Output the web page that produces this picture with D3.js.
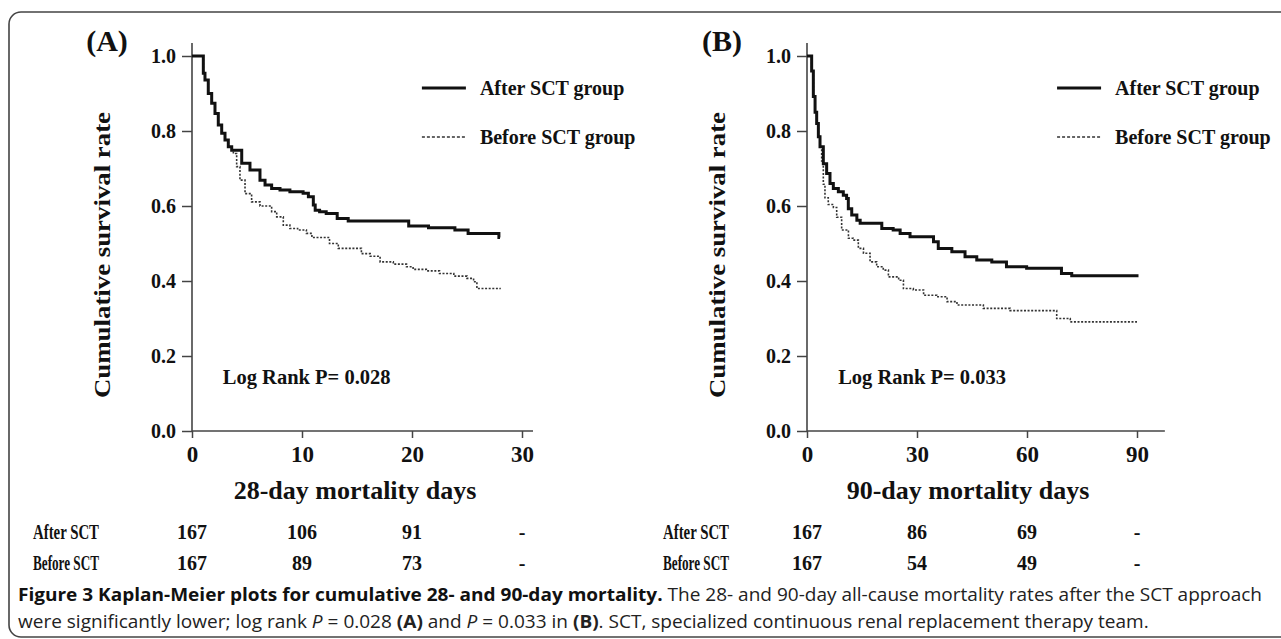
<!DOCTYPE html>
<html>
<head>
<meta charset="utf-8">
<script src="https://cdn.jsdelivr.net/npm/d3@7"></script>
<style>
    body { margin: 0; background: #fff; }
    svg text { font-family: "Liberation Serif", "Times New Roman", serif; font-weight: bold; fill: #111; }
    .caption text { font-family: "Open Sans", sans-serif; font-weight: normal; fill: #222; }
</style>
</head>
<body>
<svg id="chart" width="1281" height="639"></svg>
<script>
// ---- data ----
var yTicks = [0, 0.2, 0.4, 0.6, 0.8, 1.0];
var ticksA = [0, 10, 20, 30];
var ticksB = [0, 30, 60, 90];

// (A) 28-day, after SCT group
var daysA_after = [0, 0.9, 1.03, 1.18, 1.48, 1.79, 2.09, 2.39, 2.7, 3.0, 3.3, 3.61, 4.52, 5.27, 6.18, 6.64, 7.24, 8.0, 8.9, 10.1, 10.58, 11.03, 11.2, 11.6, 12.2, 13.2, 14.2, 19.7, 21.5, 23.9, 25.1, 27.9, 28];
var survA_after = [1.0, 1.0, 0.954, 0.936, 0.900, 0.874, 0.847, 0.816, 0.794, 0.776, 0.758, 0.749, 0.714, 0.696, 0.669, 0.656, 0.647, 0.643, 0.638, 0.634, 0.625, 0.603, 0.589, 0.585, 0.580, 0.567, 0.560, 0.547, 0.542, 0.536, 0.527, 0.516, 0.516];
// (A) 28-day, before SCT group
var daysA_before = [0, 0.9, 1.03, 1.18, 1.48, 1.79, 2.09, 2.39, 2.7, 3.0, 3.3, 3.61, 3.76, 4.06, 4.36, 4.82, 5.42, 6.18, 7.24, 7.7, 8.3, 8.9, 9.6, 10.4, 10.9, 12.5, 13.3, 15.4, 16.2, 17.1, 18.3, 19.5, 20.1, 21.3, 22.5, 23.8, 25.0, 25.6, 25.9, 28];
var survA_before = [1.0, 1.0, 0.954, 0.936, 0.900, 0.874, 0.847, 0.816, 0.794, 0.776, 0.758, 0.749, 0.740, 0.705, 0.669, 0.633, 0.611, 0.600, 0.585, 0.571, 0.549, 0.540, 0.536, 0.527, 0.516, 0.500, 0.487, 0.473, 0.466, 0.451, 0.445, 0.438, 0.431, 0.427, 0.420, 0.413, 0.407, 0.398, 0.380, 0.378];

// (B) 90-day, after SCT group
var daysB_after = [0, 0.82, 1.27, 1.73, 2.2, 2.64, 3.1, 3.55, 4.45, 5.36, 6.27, 7.18, 8.55, 9.9, 10.8, 11.27, 12.2, 13.6, 14.5, 20.4, 23.5, 25.4, 28.1, 34.5, 35.8, 39.5, 43.1, 46.3, 50.4, 54.4, 59.9, 69.4, 72.2, 89.6, 90];
var survB_after = [1.0, 1.0, 0.96, 0.892, 0.85, 0.820, 0.785, 0.758, 0.713, 0.687, 0.660, 0.647, 0.638, 0.629, 0.620, 0.593, 0.576, 0.562, 0.554, 0.540, 0.536, 0.527, 0.518, 0.505, 0.487, 0.478, 0.465, 0.456, 0.451, 0.438, 0.434, 0.420, 0.414, 0.414, 0.41];
// (B) 90-day, before SCT group
var daysB_before = [0, 0.82, 1.27, 1.73, 2.2, 2.64, 3.1, 3.55, 4.0, 4.45, 4.9, 5.8, 7.2, 8.1, 9.45, 11.3, 12.6, 14.0, 15.4, 17.2, 19.0, 20.8, 22.2, 25.0, 26.3, 29.0, 31.8, 35.4, 38.2, 40.9, 48.1, 55.4, 68.1, 71.8, 90];
var survB_before = [1.0, 1.0, 0.96, 0.892, 0.85, 0.820, 0.785, 0.758, 0.72, 0.658, 0.622, 0.604, 0.596, 0.570, 0.536, 0.514, 0.509, 0.487, 0.474, 0.451, 0.438, 0.429, 0.411, 0.402, 0.380, 0.376, 0.362, 0.358, 0.345, 0.336, 0.327, 0.321, 0.300, 0.291, 0.291];

// numbers at risk
var riskLabels = ["After SCT", "Before SCT"];
var riskA_after = ["167", "106", "91", "-"];
var riskA_before = ["167", "89", "73", "-"];
var riskB_after = ["167", "86", "69", "-"];
var riskB_before = ["167", "54", "49", "-"];

var legendNames = ["After SCT group", "Before SCT group"];

var svg = d3.select("#chart");

// frame around the figure
svg.append("rect")
    .attr("x", 9).attr("y", 12)
    .attr("width", 1400).attr("height", 625)
    .attr("rx", 12)
    .attr("fill", "none")
    .attr("stroke", "#444")
    .attr("stroke-width", 1.6);

var y = d3.scaleLinear().domain([0, 1]).range([431, 56]);

drawPanel({
    letter: "(A)", x0: 192, x1: 522, maxDay: 30, axisEnd: 31,
    ticks: ticksA, title: "28-day mortality days", pval: "Log Rank P= 0.028", pDay: 2.8,
    after: d3.zip(daysA_after, survA_after), before: d3.zip(daysA_before, survA_before),
    riskAfter: riskA_after, riskBefore: riskA_before, labelX: 66, titleX: 355, legendDay: 20.9
});
drawPanel({
    letter: "(B)", x0: 807, x1: 1137, maxDay: 90, axisEnd: 97.6,
    ticks: ticksB, title: "90-day mortality days", pval: "Log Rank P= 0.033", pDay: 8.5,
    after: d3.zip(daysB_after, survB_after), before: d3.zip(daysB_before, survB_before),
    riskAfter: riskB_after, riskBefore: riskB_before, labelX: 696, titleX: 968, legendDay: 68.2
});

function drawPanel(p) {
    var x = d3.scaleLinear().domain([0, p.maxDay]).range([p.x0, p.x1]);
    var g = svg.append("g");

    // y axis
    var ya = g.append("g")
        .attr("transform", "translate(" + p.x0 + ",0)")
        .call(d3.axisLeft(y).tickValues(yTicks).tickFormat(d3.format(".1f")).tickSize(10).tickPadding(6));
    ya.select(".domain").remove();
    ya.selectAll("text").attr("font-size", 20).attr("font-family", null).attr("fill", "#111");
    ya.selectAll("line").attr("stroke", "#444").attr("stroke-width", 1.5);
    g.append("line")
        .attr("x1", p.x0).attr("x2", p.x0)
        .attr("y1", y(1.035)).attr("y2", y(0))
        .attr("stroke", "#444").attr("stroke-width", 1.6);

    // x axis
    var xa = g.append("g")
        .attr("transform", "translate(0," + y(0) + ")")
        .call(d3.axisBottom(x).tickValues(p.ticks).tickSize(7).tickPadding(8));
    xa.select(".domain").remove();
    xa.selectAll("text").attr("font-size", 23).attr("font-family", null).attr("fill", "#111");
    xa.selectAll("line").attr("stroke", "#444").attr("stroke-width", 1.5);
    g.append("line")
        .attr("x1", x(0)).attr("x2", x(p.axisEnd))
        .attr("y1", y(0)).attr("y2", y(0))
        .attr("stroke", "#444").attr("stroke-width", 1.6);

    // survival curves
    var line = d3.line()
        .x(function(d) { return x(d[0]); })
        .y(function(d) { return y(d[1]); })
        .curve(d3.curveStepAfter);

    g.append("path")
        .datum(p.before)
        .attr("d", line)
        .attr("fill", "none")
        .attr("stroke", "#333")
        .attr("stroke-width", 1.6)
        .attr("stroke-dasharray", "2,1.6");

    g.append("path")
        .datum(p.after)
        .attr("d", line)
        .attr("fill", "none")
        .attr("stroke", "#111")
        .attr("stroke-width", 3);

    // panel letter
    g.append("text")
        .attr("x", p.x0 - 85)
        .attr("y", 51)
        .attr("text-anchor", "middle")
        .attr("font-size", 30)
        .text(p.letter);

    // y axis title
    g.append("text")
        .attr("transform", "translate(" + (p.x0 - 82) + ",255) rotate(-90)")
        .attr("text-anchor", "middle")
        .attr("font-size", 24)
        .attr("textLength", 286)
        .attr("lengthAdjust", "spacingAndGlyphs")
        .text("Cumulative survival rate");

    // x axis title
    g.append("text")
        .attr("x", p.titleX)
        .attr("y", 499)
        .attr("text-anchor", "middle")
        .attr("font-size", 26)
        .text(p.title);

    // p value
    g.append("text")
        .attr("x", x(p.pDay))
        .attr("y", 384)
        .attr("font-size", 20.5)
        .text(p.pval);

    // legend
    var lx = x(p.legendDay);
    var legend = g.selectAll(".leg")
        .data(legendNames)
        .enter().append("g")
        .attr("transform", function(d, i) { return "translate(" + lx + "," + (88 + i * 49) + ")"; });
    legend.append("line")
        .attr("x1", 0).attr("x2", 44)
        .attr("stroke", function(d, i) { return i ? "#333" : "#111"; })
        .attr("stroke-width", function(d, i) { return i ? 1.3 : 3; })
        .attr("stroke-dasharray", function(d, i) { return i ? "3,2" : null; });
    legend.append("text")
        .attr("x", 58)
        .attr("y", 7)
        .attr("font-size", 20)
        .text(function(d) { return d; });

    // numbers at risk
    var rows = [p.riskAfter, p.riskBefore];
    rows.forEach(function(row, r) {
        var ry = 539 + r * 31;
        g.append("text")
            .attr("x", p.labelX)
            .attr("y", ry)
            .attr("text-anchor", "middle")
            .attr("font-size", 20)
            .attr("textLength", 66)
            .attr("lengthAdjust", "spacingAndGlyphs")
            .text(riskLabels[r]);
        g.selectAll(null)
            .data(row)
            .enter().append("text")
            .attr("x", function(d, i) { return x(p.ticks[i]); })
            .attr("y", ry)
            .attr("text-anchor", "middle")
            .attr("font-size", 20)
            .text(function(d) { return d; });
    });
}

// caption
var cap = svg.append("g").attr("class", "caption");
var c1 = cap.append("text").attr("x", 18).attr("y", 601).attr("font-size", 18);
c1.append("tspan").attr("font-weight", "bold").style("fill", "#111")
    .text("Figure 3 Kaplan-Meier plots for cumulative 28- and 90-day mortality.");
c1.append("tspan").text(" The 28- and 90-day all-cause mortality rates after the SCT approach");

var c2 = cap.append("text").attr("x", 18).attr("y", 628).attr("font-size", 18);
c2.append("tspan").text("were significantly lower; log rank ");
c2.append("tspan").attr("font-style", "italic").text("P");
c2.append("tspan").text(" = 0.028 ");
c2.append("tspan").attr("font-weight", "bold").text("(A)");
c2.append("tspan").text(" and ");
c2.append("tspan").attr("font-style", "italic").text("P");
c2.append("tspan").text(" = 0.033 in ");
c2.append("tspan").attr("font-weight", "bold").text("(B)");
c2.append("tspan").text(". SCT, specialized continuous renal replacement therapy team.");

// squeeze both caption lines by the same factor so line one spans the frame
var natural = c1.node().getComputedTextLength();
var k = 1244 / natural;
c1.attr("textLength", 1244).attr("lengthAdjust", "spacingAndGlyphs");
c2.attr("textLength", c2.node().getComputedTextLength() * k).attr("lengthAdjust", "spacingAndGlyphs");
</script>
</body>
</html>
